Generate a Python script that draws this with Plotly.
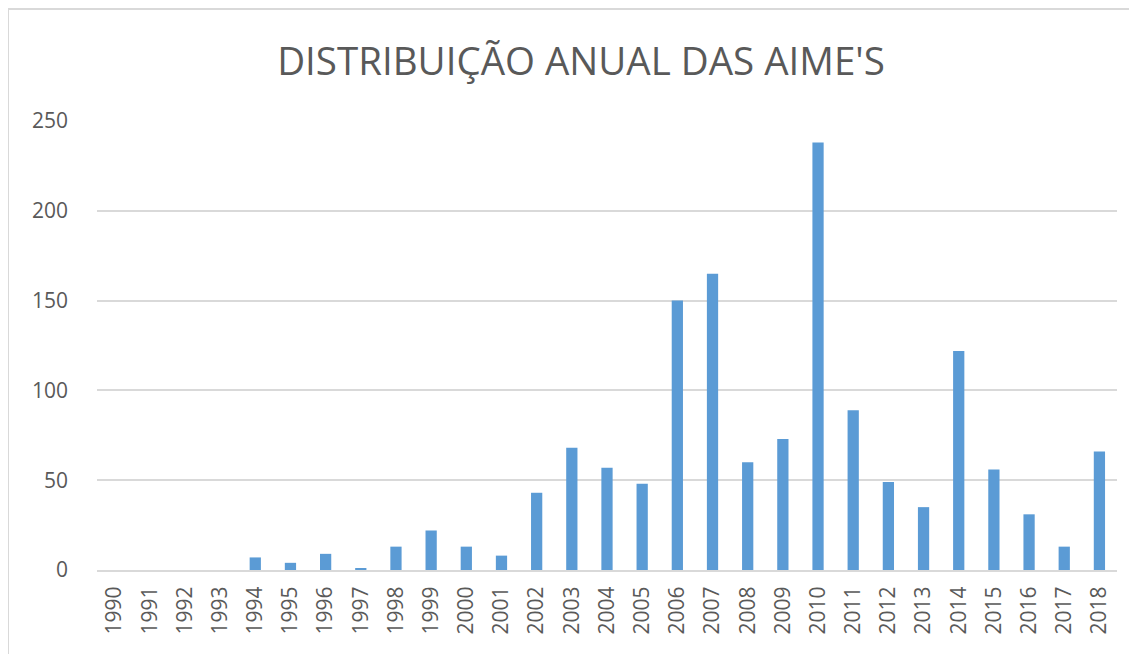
import plotly.graph_objects as go

years = [str(y) for y in range(1990, 2019)]
values = [0, 0, 0, 0, 7, 4, 9, 1, 13, 22, 13, 8, 43, 68, 57, 48, 150, 165, 60, 73,
          238, 89, 49, 35, 122, 56, 31, 13, 66]
y_ticks = [0, 50, 100, 150, 200, 250]

# page body has an 8px margin; target screen coords are shifted by OFF
OFF = 8
W, H = 1137, 654
L, T = 97 - OFF, 121 - OFF
R = W - (1117 - OFF)
B = H - (570 - OFF)
pw, ph = W - L - R, H - T - B

def px(x):
    return (x - OFF - L) / pw

def py(y):
    return (H - B - (y - OFF)) / ph

fig = go.Figure(go.Bar(x=years, y=values, marker=dict(color="#5B9BD5", line=dict(width=0))))

fig.update_layout(
    width=W, height=H,
    margin=dict(l=L, r=R, t=T, b=B),
    plot_bgcolor="white", paper_bgcolor="white",
    bargap=0.68,
    showlegend=False,
    title=dict(text="DISTRIBUIÇÃO ANUAL DAS AIME'S", x=px(581), xref="paper", xanchor="center",
               y=1 - (62 - OFF) / H, yanchor="middle",
               font=dict(family="Open Sans", size=38.5, color="#595959")),
    font=dict(family="Open Sans", color="#595959"),
    shapes=[
        dict(type="line", xref="paper", yref="paper", x0=px(8), x1=px(8), y0=py(10), y1=py(670),
             line=dict(color="#d9d9d9", width=2)),
        dict(type="line", xref="paper", yref="paper", x0=px(8), x1=px(1129), y0=py(9), y1=py(9),
             line=dict(color="#d9d9d9", width=2)),
    ],
)
fig.update_xaxes(type="category", tickangle=-90, showgrid=False, showline=True,
                 linecolor="#d9d9d9", linewidth=2, ticks="",
                 tickfont=dict(family="Open Sans", size=21, color="#595959"),
                 ticklabelstandoff=6)
fig.update_yaxes(range=[0, 250], tickvals=y_ticks, showgrid=True, gridcolor="#d9d9d9",
                 gridwidth=2, zeroline=False, showline=False, ticks="",
                 tickfont=dict(family="Open Sans", size=21, color="#595959"),
                 ticklabelstandoff=28)

fig.write_html("out.html")
